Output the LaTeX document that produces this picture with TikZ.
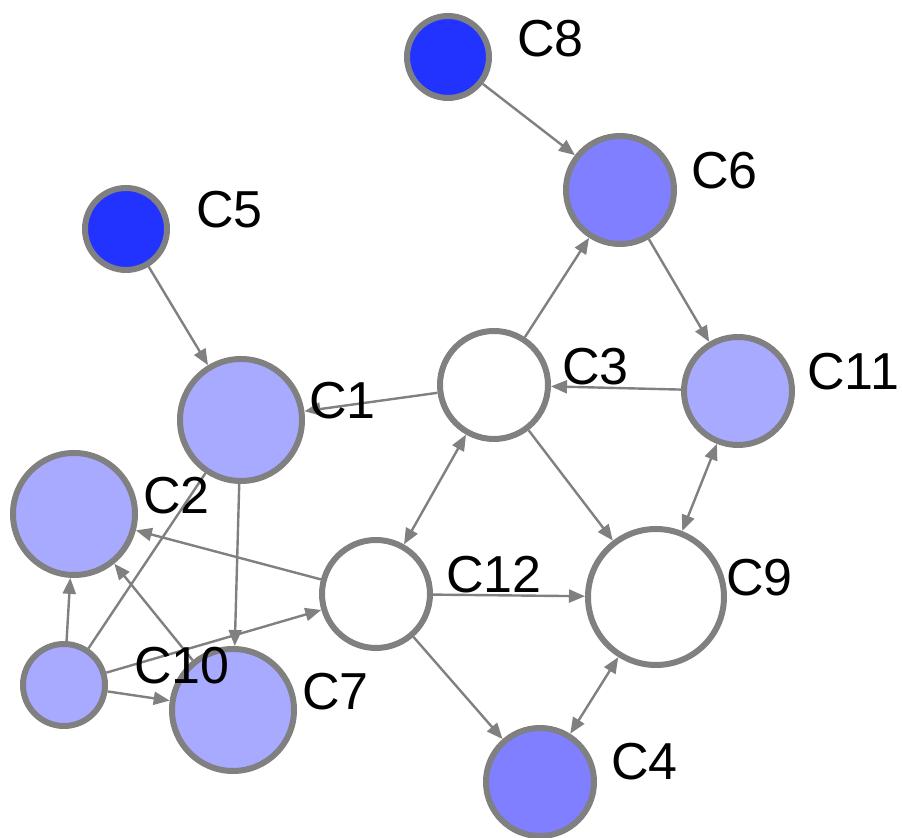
\documentclass[tikz,border=0pt]{standalone}
\usepackage{fontspec}
\setmainfont{Liberation Sans}
\usetikzlibrary{arrows.meta}
\definecolor{rimgray}{RGB}{128,128,128}
\definecolor{deepblue}{RGB}{34,51,255}
\definecolor{midblue}{RGB}{127,127,255}
\definecolor{paleblue}{RGB}{168,170,255}
\begin{document}
\begin{tikzpicture}[x=0.5pt, y=-0.5pt,
        vtx/.style={circle, draw=rimgray, line width=3pt, inner sep=0pt},
        vsmall/.style={vtx, minimum size=41pt},
        vmid/.style={vtx, minimum size=54pt},
        vbig/.style={vtx, minimum size=61pt},
        vhuge/.style={vtx, minimum size=68pt},
        lbl/.style={anchor=west, inner sep=0pt, font=\fontsize{26}{30}\selectfont},
        link/.style={draw=rimgray, line width=1.2pt, -{Triangle[length=8pt, width=6.5pt]}},
        twoway/.style={link, {Triangle[length=8pt, width=6.5pt]}-{Triangle[length=8pt, width=6.5pt]}},
        bare/.style={draw=rimgray, line width=1.2pt}]
            \useasboundingbox (0,0) rectangle (902,838);

            \node at (448,57) [vsmall, fill=deepblue] (c8) {};
            \node at (126,229) [vsmall, fill=deepblue] (c5) {};
            \node at (620,190) [vmid, fill=midblue] (c6) {};
            \node at (241,420) [vbig, fill=paleblue] (c1) {};
            \node at (494,385) [vmid, fill=white] (c3) {};
            \node at (738,391) [vmid, fill=paleblue] (c11) {};
            \node at (74,514) [vbig, fill=paleblue] (c2) {};
            \node at (376,594) [vmid, fill=white] (c12) {};
            \node at (656,597) [vhuge, fill=white] (c9) {};
            \node at (64,685) [vsmall, fill=paleblue] (c10) {};
            \node at (233,710) [vbig, fill=paleblue] (c7) {};
            \node at (540,782) [vmid, fill=midblue] (c4) {};

            \draw[link] (c8) -- (c6);
            \draw[link] (c5) -- (c1);
            \draw[link] (c6) -- (c11);
            \draw[link] (c3) -- (c6);
            \draw[link] (c11) -- (c3);
            \draw[link] (c3) -- (c1);
            \draw[twoway] (c3) -- (c12);
            \draw[link] (c3) -- (c9);
            \draw[twoway] (c11) -- (c9);
            \draw[link] (c12) -- (c9);
            \draw[link] (c12) -- (c2);
            \draw[link] (c12) -- (c4);
            \draw[twoway] (c9) -- (c4);
            \draw[link] (c1) -- (c7);
            \draw[link] (c10) -- (c2);
            \draw[link] (c10) -- (c7);
            \draw[link] (c10) -- (c12);
            \draw[bare] (c10) -- (c1);
            \draw[link] (c7) -- (c2);

            \node at (517,39) [lbl] (l8) {C8};
            \node at (196,210) [lbl] (l5) {C5};
            \node at (691,171) [lbl] (l6) {C6};
            \node at (309,401) [lbl] (l1) {C1};
            \node at (562,367) [lbl] (l3) {C3};
            \node at (807,372) [lbl] (l11) {C11};
            \node at (143,496) [lbl] (l2) {C2};
            \node at (446,575) [lbl] (l12) {C12};
            \node at (726,578) [lbl] (l9) {C9};
            \node at (134,666) [lbl] (l10) {C10};
            \node at (302,692) [lbl] (l7) {C7};
            \node at (611,762) [lbl] (l4) {C4};
        \end{tikzpicture}
\end{document}
